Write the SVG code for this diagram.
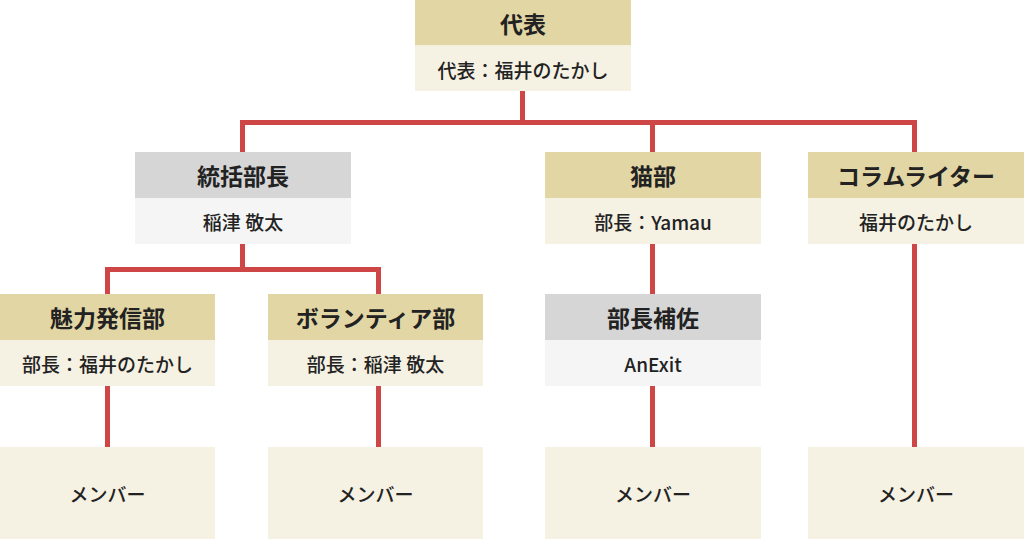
<svg xmlns="http://www.w3.org/2000/svg" width="1024" height="539" viewBox="0 0 1024 539">
<style>
.ht{fill:#e2d6a4}
.hb{fill:#f5f1e3}
.gt{fill:#d6d6d6}
.gb{fill:#f5f5f5}
.h{font-family:"Noto Sans CJK JP","Noto Sans",sans-serif;font-size:23px;font-weight:bold;fill:#222;text-anchor:middle;dominant-baseline:central}
.b{font-family:"Noto Sans CJK JP","Noto Sans",sans-serif;font-size:19px;font-weight:500;fill:#222;text-anchor:middle;dominant-baseline:central}
.c{fill:none;stroke:#cf4646;stroke-width:5}
</style>
<rect width="1024" height="539" fill="#fff"/>
<g id="connectors">
<path class="c" d="M522.5 91V122.5M242.5 152V122.5H914.5V152M652.5 122.5V152"/>
<path class="c" d="M242.5 244V269.5M107.5 294V269.5H378.5V294"/>
<path class="c" d="M107.5 386V447M378.5 386V447M652.5 244V294M652.5 386V447M914.5 244V447"/>
</g>
<g id="n-daihyo">
<rect class="ht" x="415" y="0" width="216" height="45.5"/>
<rect class="hb" x="415" y="45.5" width="216" height="45.5"/>
<text class="h" x="523" y="22.5">代表</text>
<text class="b" x="523" y="69">代表：福井のたかし</text>
</g>
<g id="n-tokatsu">
<rect class="gt" x="135" y="152" width="216" height="46"/>
<rect class="gb" x="135" y="198" width="216" height="46"/>
<text class="h" x="243" y="175">統括部長</text>
<text class="b" x="243" y="221">稲津 敬太</text>
</g>
<g id="n-neko">
<rect class="ht" x="545" y="152" width="216" height="46"/>
<rect class="hb" x="545" y="198" width="216" height="46"/>
<text class="h" x="653" y="175">猫部</text>
<text class="b" x="653" y="221">部長：Yamau</text>
</g>
<g id="n-column">
<rect class="ht" x="808" y="152" width="216" height="46"/>
<rect class="hb" x="808" y="198" width="216" height="46"/>
<text class="h" x="916" y="175">コラムライター</text>
<text class="b" x="916" y="221">福井のたかし</text>
</g>
<g id="n-miryoku">
<rect class="ht" x="0" y="294" width="215" height="46"/>
<rect class="hb" x="0" y="340" width="215" height="46"/>
<text class="h" x="107.5" y="317">魅力発信部</text>
<text class="b" x="107.5" y="363">部長：福井のたかし</text>
</g>
<g id="n-volunteer">
<rect class="ht" x="268" y="294" width="215" height="46"/>
<rect class="hb" x="268" y="340" width="215" height="46"/>
<text class="h" x="375.5" y="317">ボランティア部</text>
<text class="b" x="375.5" y="363">部長：稲津 敬太</text>
</g>
<g id="n-hosa">
<rect class="gt" x="545" y="294" width="216" height="46"/>
<rect class="gb" x="545" y="340" width="216" height="46"/>
<text class="h" x="653" y="317">部長補佐</text>
<text class="b" x="653" y="363">AnExit</text>
</g>
<g id="m1"><rect class="hb" x="0" y="447" width="215" height="92"/><text class="b" x="107.5" y="493">メンバー</text></g>
<g id="m2"><rect class="hb" x="268" y="447" width="215" height="92"/><text class="b" x="375.5" y="493">メンバー</text></g>
<g id="m3"><rect class="hb" x="545" y="447" width="216" height="92"/><text class="b" x="653" y="493">メンバー</text></g>
<g id="m4"><rect class="hb" x="808" y="447" width="216" height="92"/><text class="b" x="916" y="493">メンバー</text></g>
</svg>
